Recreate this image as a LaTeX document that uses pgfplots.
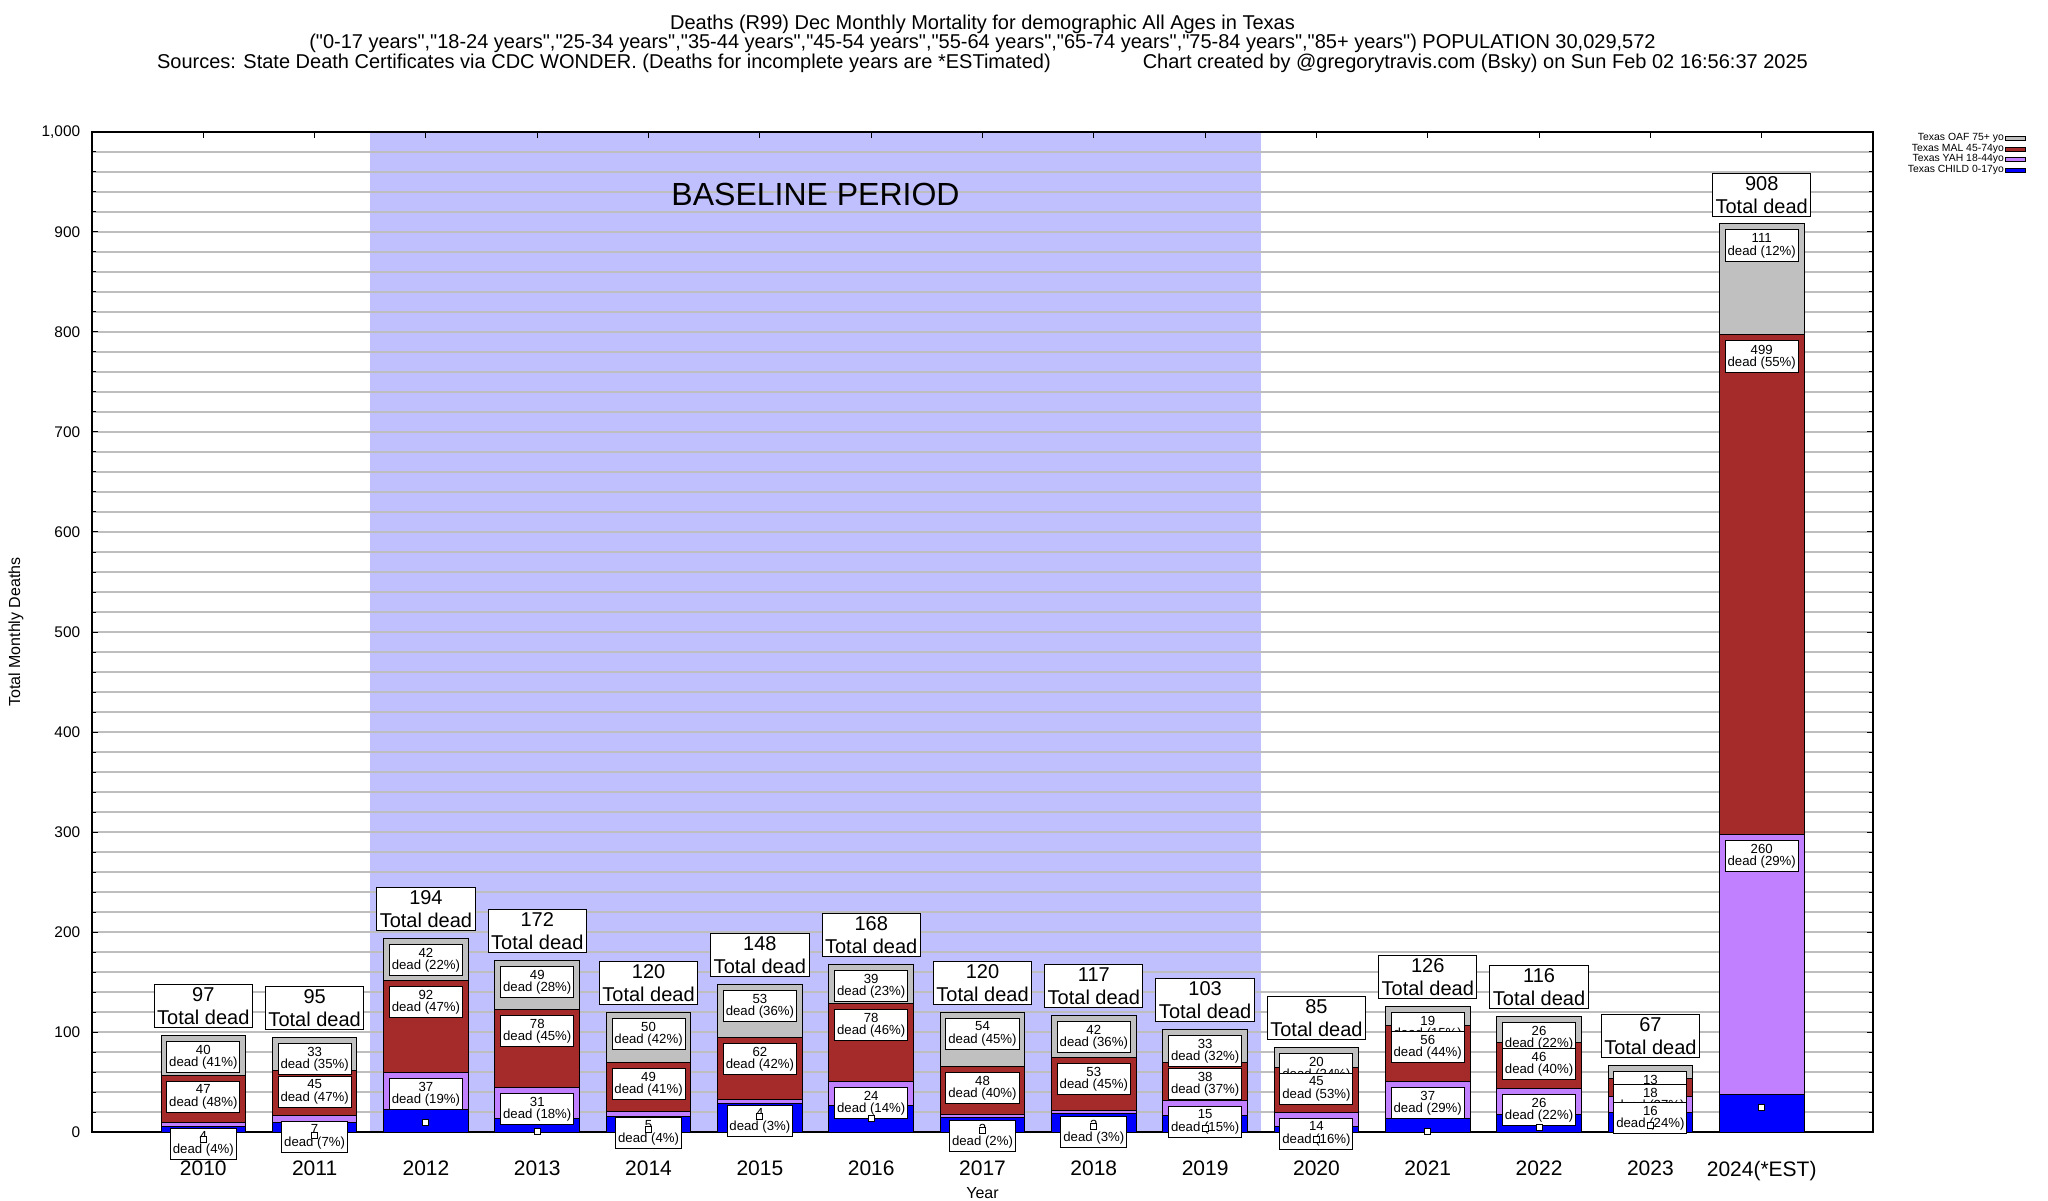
\documentclass[border=0pt]{standalone}
\usepackage{fontspec}
\setmainfont{Liberation Sans}[Ligatures=TeXOff]
\usepackage{pgfplots}
\usepackage{pgfplotstable}
\pgfplotsset{compat=1.18}

\definecolor{baseshade}{RGB}{192,192,255}
\definecolor{childblue}{RGB}{0,0,255}
\definecolor{yahpurple}{RGB}{192,128,255}
\definecolor{malred}{RGB}{165,42,42}
\definecolor{oafgray}{RGB}{192,192,192}
\definecolor{gridgray}{RGB}{190,190,190}

% x = year index (2010 = 0), deaths per group, and the printed percentages
\pgfplotstableread{
x  child yah mal oaf pyah pmal poaf
0  6     4   47  40  4    48   41
1  10    7   45  33  7    47   35
2  23    37  92  42  19   47   22
3  14    31  78  49  18   45   28
4  16    5   49  50  4    41   42
5  29    4   62  53  3    42   36
6  27    24  78  39  14   46   23
7  15    3   48  54  2    40   45
8  19    3   53  42  3    45   36
9  17    15  38  33  15   37   32
10 6     14  45  20  16   53   24
11 14    37  56  19  29   44   15
12 18    26  46  26  22   40   22
13 20    16  18  13  24   27   19
14 38    260 499 111 29   55   12
}\deaths

\pgfplotsset{
  samebox/.style={width=890.5pt, height=500pt, scale only axis,
    xmin=-1, xmax=15, ymin=0, ymax=1000, at={(0,0)}, anchor=south west,
    /pgf/number format/assume math mode=true},
  seglabel/.style={draw=none, nodes near coords align={anchor=north},
    nodes near coords style={anchor=north, yshift=-2.75pt, draw=black, fill=white,
      line width=0.5pt, inner xsep=1.2pt, inner ysep=1.9pt, align=center,
      font=\fontsize{6.6}{6.2}\selectfont},
    nodes near coords={\pgfmathprintnumber{\pgfplotspointmeta}\\dead (\pgfmathprintnumber{\pct}\%)}},
  segbar/.style={draw=black, line width=0.5pt, fill=#1},
}

\begin{document}
\begin{tikzpicture}
% shaded baseline years
\begin{axis}[samebox, hide axis]
\addplot[fill=baseshade, draw=none] coordinates {(1.5,0) (1.5,1000) (9.5,1000) (9.5,0)} -- cycle;
\end{axis}

\begin{axis}[samebox,
  ybar stacked, bar width=0.76,
  xtick={0,...,14},
  xticklabels={2010,2011,2012,2013,2014,2015,2016,2017,2018,2019,2020,2021,2022,2023,2024(*EST)},
  ytick={0,100,...,1000}, minor y tick num=4,
  ymajorgrids, yminorgrids,
  major grid style={gridgray, line width=0.6pt},
  minor grid style={gridgray, line width=0.6pt},
  tick align=inside, major tick length=3pt, minor tick length=1.8pt,
  tick style={black, line width=0.5pt},
  axis line style={line width=0.6pt},
  /pgf/number format/1000 sep={,},
  yticklabel style={font=\fontsize{7.7}{8}\selectfont, xshift=-2.4pt},
  xticklabel style={font=\fontsize{10.5}{11}\selectfont, yshift=-11pt},
  reverse legend, legend cell align=right, legend plot pos=right,
  legend style={at={(rel axis cs:1,1)}, anchor=north east, xshift=76.5pt,
    draw=none, fill=none, inner sep=0pt, row sep=-0.8pt,
    nodes={inner sep=0.5pt}, font=\fontsize{5.2}{5.2}\selectfont},
  legend image code/.code={\draw[#1, draw=black, line width=0.4pt] (0pt,-1pt) rectangle (10pt,1pt);},
]
\addplot[segbar=childblue] table[x=x, y=child] {\deaths};
\addlegendentry{Texas CHILD 0-17yo}
\addplot[segbar=yahpurple] table[x=x, y=yah] {\deaths};
\addlegendentry{Texas YAH 18-44yo}
\addplot[segbar=malred] table[x=x, y=mal] {\deaths};
\addlegendentry{Texas MAL 45-74yo}
\addplot[segbar=oafgray] table[x=x, y=oaf] {\deaths};
\addlegendentry{Texas OAF 75+ yo}
\end{axis}

% labels, drawn top group first
\begin{axis}[samebox, hide axis, clip=false]
\node[font=\fontsize{16}{16}\selectfont] at (axis cs:5.5,938) {BASELINE PERIOD};
\addplot[draw=none, point meta={\thisrow{child}+\thisrow{yah}+\thisrow{mal}+\thisrow{oaf}},
  nodes near coords align={anchor=south},
  nodes near coords style={anchor=south, yshift=3.3pt, draw=black, fill=white,
    line width=0.5pt, inner sep=1.5pt, align=center, font=\fontsize{10}{11.5}\selectfont},
  nodes near coords={\pgfmathprintnumber{\pgfplotspointmeta}\\Total dead}]
  table[x=x, y expr=\thisrow{child}+\thisrow{yah}+\thisrow{mal}+\thisrow{oaf}] {\deaths};
\addplot[seglabel, point meta=\thisrow{oaf}, visualization depends on={\thisrow{poaf}\as\pct}]
  table[x=x, y expr=\thisrow{child}+\thisrow{yah}+\thisrow{mal}+\thisrow{oaf}] {\deaths};
\addplot[seglabel, point meta=\thisrow{mal}, visualization depends on={\thisrow{pmal}\as\pct}]
  table[x=x, y expr=\thisrow{child}+\thisrow{yah}+\thisrow{mal}] {\deaths};
\addplot[seglabel, point meta=\thisrow{yah}, visualization depends on={\thisrow{pyah}\as\pct}]
  table[x=x, y expr=\thisrow{child}+\thisrow{yah}] {\deaths};
\addplot[draw=none, point meta=\thisrow{child},
  nodes near coords align={anchor=center},
  nodes near coords style={anchor=center, yshift=-6.5pt, draw=black, fill=white,
    line width=0.5pt, inner sep=0pt, minimum size=3pt},
  nodes near coords={\hbox{}}]
  table[x=x, y=child] {\deaths};
\end{axis}

\node[anchor=south, align=center, inner sep=0pt, font=\fontsize{10}{9.8}\selectfont] at (445.25pt,529.5pt)
  {Deaths (R99) Dec Monthly Mortality for demographic All Ages in Texas\\
   ("0-17 years","18-24 years","25-34 years","35-44 years","45-54 years","55-64 years","65-74 years","75-84 years","85+ years") POPULATION 30,029,572\\
   Sources: State Death Certificates via CDC WONDER. (Deaths for incomplete years are *ESTimated)\hspace{46pt}Chart created by @gregorytravis.com (Bsky) on Sun Feb 02 16:56:37 2025};
\node[rotate=90, font=\fontsize{8}{8}\selectfont] at (-38pt,250pt) {Total Monthly Deaths};
\node[font=\fontsize{8}{8}\selectfont] at (445.25pt,-30.5pt) {Year};

\pgfresetboundingbox
\useasboundingbox (-46pt,-34pt) rectangle (978pt,566pt);
\end{tikzpicture}
\end{document}
